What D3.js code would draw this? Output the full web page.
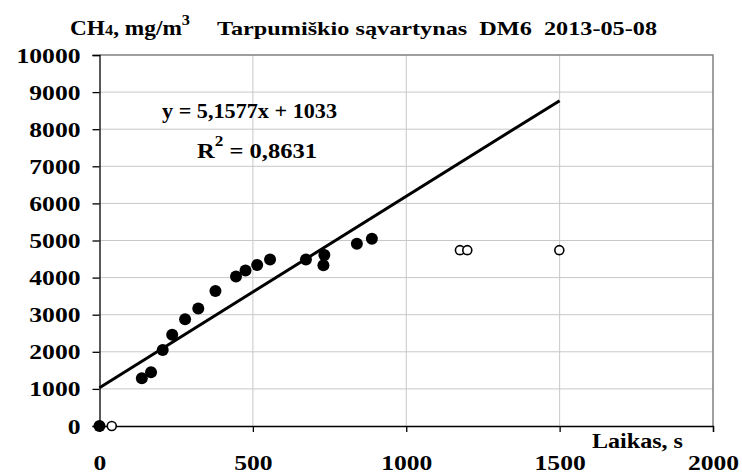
<!DOCTYPE html>
<html>
<head>
<meta charset="utf-8">
<script src="https://cdn.jsdelivr.net/npm/d3@7"></script>
<style>
  body { margin: 0; background: #fff; }
  svg text { font-family: "Liberation Serif", "Times New Roman", serif; font-weight: bold; fill: #000; }
</style>
</head>
<body>
<svg id="chart" width="742" height="475"></svg>
<script>
// measured points, DM6 2013-05-08
const timeFilled = [0, 138, 168, 206, 237, 279, 322, 378, 445, 476, 514, 556, 673, 730, 733, 839, 888];
const ch4Filled = [0, 1290, 1450, 2050, 2460, 2880, 3170, 3640, 4030, 4190, 4340, 4490, 4490, 4330, 4610, 4910, 5050];
const timeOpen = [40, 1175, 1199, 1499];
const ch4Open = [0, 4740, 4740, 4740];
const trendSlope = 5.1577;
const trendIntercept = 1033;
const trendRange = [0, 1500];
const xTicks = [0, 500, 1000, 1500, 2000];
const yTicks = [0, 1000, 2000, 3000, 4000, 5000, 6000, 7000, 8000, 9000, 10000];

let svg = d3.select('#chart');

let x = d3.scaleLinear().domain([0, 2000]).range([99.5, 713]);
let y = d3.scaleLinear().domain([0, 10000]).range([426, 55]);

// grid
svg.append('g')
    .selectAll('line')
    .data(yTicks.slice(1, -1))
    .enter()
    .append('line')
    .attr('x1', x(0)).attr('x2', x(2000))
    .attr('y1', d => y(d)).attr('y2', d => y(d))
    .style('stroke', '#c8c8c8').style('stroke-width', 1);
svg.append('g')
    .selectAll('line')
    .data(xTicks.slice(1, -1))
    .enter()
    .append('line')
    .attr('x1', d => x(d)).attr('x2', d => x(d))
    .attr('y1', y(0)).attr('y2', y(10000))
    .style('stroke', '#c8c8c8').style('stroke-width', 1);

// top / right frame
svg.append('path')
    .attr('d', 'M' + x(0) + ',' + y(10000) + 'H' + x(2000) + 'V' + y(0))
    .style('fill', 'none').style('stroke', '#808080').style('stroke-width', 1.5);

let yAxis = svg.append('g')
    .attr('transform', 'translate(' + x(0) + ',0)')
    .call(d3.axisLeft(y).tickValues(yTicks).tickSize(7).tickPadding(12).tickFormat(d3.format('d')));
let xAxis = svg.append('g')
    .attr('transform', 'translate(0,' + y(0) + ')')
    .call(d3.axisBottom(x).tickValues(xTicks).tickSize(6).tickPadding(22).tickFormat(d3.format('d')));

// labels in the original are a bit wider than plain Times
[xAxis, yAxis].forEach(function (a) {
    a.select('.domain').style('stroke', '#000').style('stroke-width', 1.3);
    a.selectAll('.tick line').style('stroke', '#000').style('stroke-width', 1.3);
    a.selectAll('.tick text')
        .style('font-family', '"Liberation Serif", serif')
        .style('font-weight', 'bold')
        .style('font-size', '22px')
        .style('fill', '#000')
        .attr('textLength', d => String(d).length * 12.8)
        .attr('lengthAdjust', 'spacingAndGlyphs');
});

// trend line
svg.append('line')
    .attr('x1', x(trendRange[0])).attr('y1', y(trendSlope * trendRange[0] + trendIntercept))
    .attr('x2', x(trendRange[1])).attr('y2', y(trendSlope * trendRange[1] + trendIntercept))
    .style('stroke', '#000').style('stroke-width', 3);

// points
svg.append('g')
    .selectAll('circle')
    .data(timeFilled.map((t, i) => [t, ch4Filled[i]]))
    .enter()
    .append('circle')
    .attr('cx', d => x(d[0])).attr('cy', d => y(d[1]))
    .attr('r', 6)
    .style('fill', '#000');
svg.append('g')
    .selectAll('circle')
    .data(timeOpen.map((t, i) => [t, ch4Open[i]]))
    .enter()
    .append('circle')
    .attr('cx', d => x(d[0])).attr('cy', d => y(d[1]))
    .attr('r', 4.5)
    .style('fill', '#fff').style('stroke', '#000').style('stroke-width', 1.6);

// title
let t1 = svg.append('text').attr('x', 70).attr('y', 35).style('font-size', '20px')
    .attr('textLength', 120).attr('lengthAdjust', 'spacingAndGlyphs');
t1.append('tspan').text('CH');
t1.append('tspan').style('font-size', '14px').text('4');
t1.append('tspan').text(', mg/m');
t1.append('tspan').attr('dy', -10).style('font-size', '14px').text('3');
svg.append('text').attr('x', 217).attr('y', 35).style('font-size', '19px')
    .style('white-space', 'pre')
    .attr('textLength', 440).attr('lengthAdjust', 'spacingAndGlyphs')
    .text('Tarpumiškio sąvartynas  DM6  2013-05-08');

// equation
svg.append('text').attr('x', 162).attr('y', 118).style('font-size', '20px')
    .attr('textLength', 175).attr('lengthAdjust', 'spacingAndGlyphs')
    .text('y = 5,1577x + 1033');
let r2 = svg.append('text').attr('x', 197).attr('y', 158).style('font-size', '20px')
    .attr('textLength', 120).attr('lengthAdjust', 'spacingAndGlyphs');
r2.append('tspan').text('R');
r2.append('tspan').attr('dy', -12).style('font-size', '14px').text('2');
r2.append('tspan').attr('dy', 12).text(' = 0,8631');

// axis title
svg.append('text').attr('x', 592).attr('y', 448).style('font-size', '20px')
    .attr('textLength', 91).attr('lengthAdjust', 'spacingAndGlyphs')
    .text('Laikas, s');
</script>
</body>
</html>
